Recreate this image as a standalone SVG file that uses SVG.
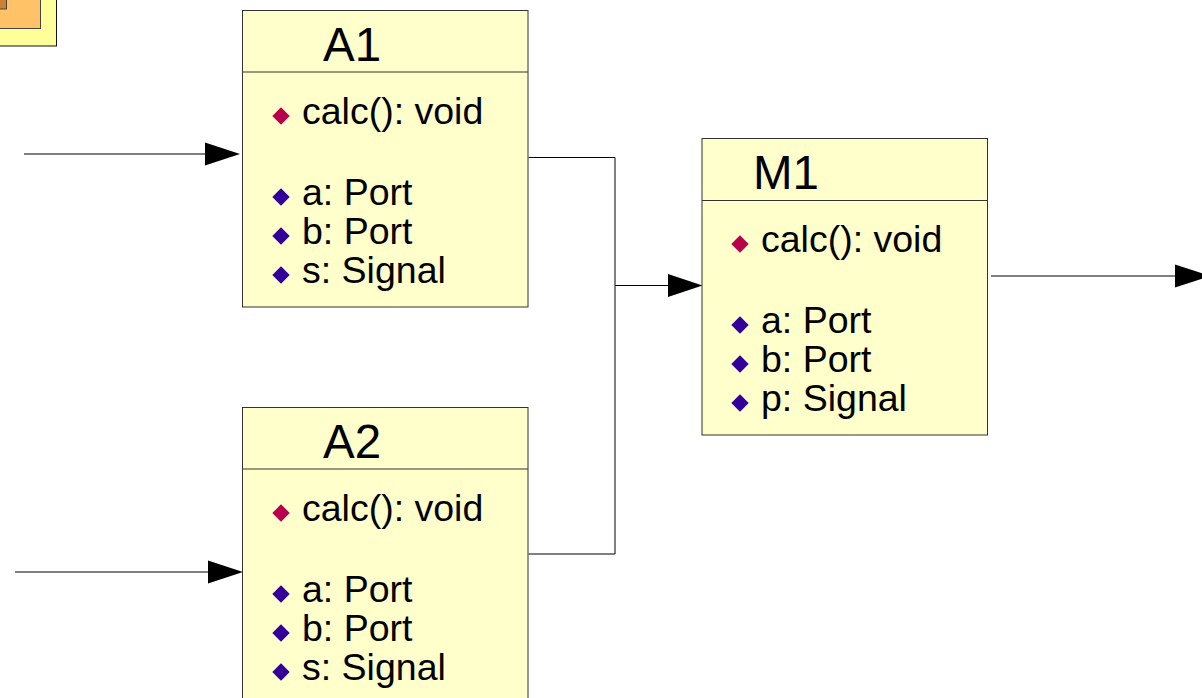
<svg xmlns="http://www.w3.org/2000/svg" width="1202" height="698" viewBox="0 0 1202 698">
<style>
.box{fill:#ffffcc;stroke:#333;stroke-width:1}
.div{stroke:#333;stroke-width:1;fill:none}
.conn{stroke:#000;stroke-width:1;fill:none}
.arrow{fill:#000}
.title{font-family:"Liberation Sans",Arial,sans-serif;font-size:47.500px;fill:#000}
.item{font-family:"Liberation Sans",Arial,sans-serif;font-size:37.500px;fill:#000}
.op{fill:#b8004c}
.attr{fill:#330099}
</style>
<defs>
<path id="d" d="M0-8.700L8.700 0 0 8.700-8.700 0Z"/>
</defs>
<g id="icon">
<rect x="-20" y="-20" width="76.500" height="66" fill="#ffff99" stroke="#111" stroke-width="1"/>
<rect x="-20" y="-20" width="60.500" height="48.500" fill="#ffc266" stroke="#444" stroke-width="1"/>
<rect x="-20" y="-20" width="26.500" height="29" fill="#cc8033" stroke="#444" stroke-width="1"/>
</g>
<g id="connectors">
<path class="conn" d="M24 154H206"/><path class="arrow" d="M205 142.500L240 154 205 165.500Z"/>
<path class="conn" d="M15 572H209"/><path class="arrow" d="M208 560.500L243 572 208 583.500Z"/>
<path class="conn" d="M528.500 157.500H615V554H528.500"/>
<path class="conn" d="M615 285.500H669"/><path class="arrow" d="M668 274L702.500 285.500 668 297Z"/>
<path class="conn" d="M991 276H1176"/><path class="arrow" d="M1175 264.500L1210 276 1175 287.500Z"/>
</g>
<g id="A1">
<rect class="box" x="242.500" y="10.500" width="285.500" height="296.500"/>
<path class="div" d="M242.500 72H528"/>
<text class="title" x="323" y="61">A1</text>
<use href="#d" class="op" x="281" y="116"/><text class="item" x="302" y="124">calc(): void</text>
<use href="#d" class="attr" x="281" y="197"/><text class="item" x="302" y="205">a: Port</text>
<use href="#d" class="attr" x="281" y="236"/><text class="item" x="302" y="244">b: Port</text>
<use href="#d" class="attr" x="281" y="275"/><text class="item" x="302" y="283">s: Signal</text>
</g>
<g id="A2">
<rect class="box" x="242.500" y="407.500" width="285.500" height="296.500"/>
<path class="div" d="M242.500 469H528"/>
<text class="title" x="323" y="458">A2</text>
<use href="#d" class="op" x="281" y="513"/><text class="item" x="302" y="521">calc(): void</text>
<use href="#d" class="attr" x="281" y="594"/><text class="item" x="302" y="602">a: Port</text>
<use href="#d" class="attr" x="281" y="633"/><text class="item" x="302" y="641">b: Port</text>
<use href="#d" class="attr" x="281" y="672"/><text class="item" x="302" y="680">s: Signal</text>
</g>
<g id="M1">
<rect class="box" x="702" y="138.500" width="285.500" height="296.500"/>
<path class="div" d="M702 200.500H987.500"/>
<text class="title" x="753" y="189">M1</text>
<use href="#d" class="op" x="740" y="244"/><text class="item" x="761" y="252">calc(): void</text>
<use href="#d" class="attr" x="740" y="325"/><text class="item" x="761" y="333">a: Port</text>
<use href="#d" class="attr" x="740" y="364"/><text class="item" x="761" y="372">b: Port</text>
<use href="#d" class="attr" x="740" y="403"/><text class="item" x="761" y="411">p: Signal</text>
</g>
</svg>
